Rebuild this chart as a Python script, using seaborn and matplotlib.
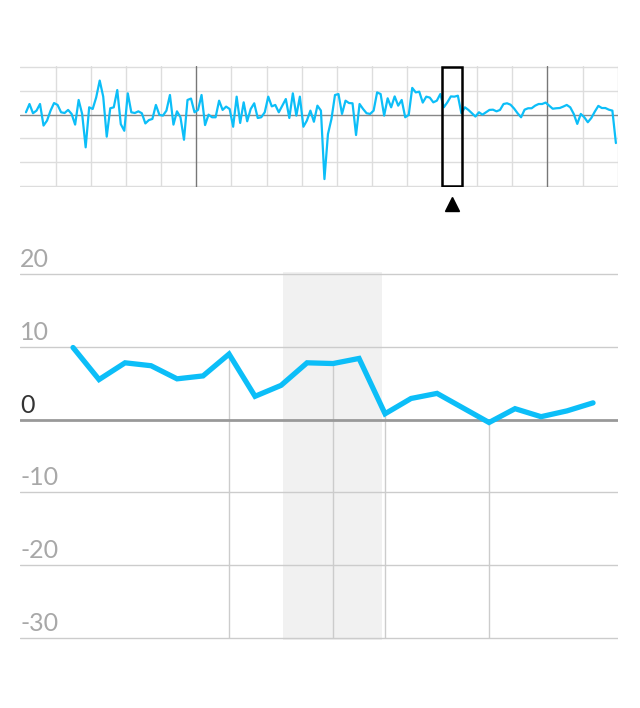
import numpy as np
import pandas as pd
import matplotlib
matplotlib.use('Agg')
import matplotlib.pyplot as plt
import matplotlib.patches as mpatches
import seaborn as sns

# overview series (full history)
overview_values = [
    1, 4.5, 0.6, 1.7, 4.5, -4.6, -2.5, 1.7, 4.9, 4.1, 1, 0.7, 2, 0.3, -4.2, 6.2, 0.3, -13.8,
    3.1, 2.4, 7.3, 14.4, 7.6, -9.3, 2.7, 3.1, 10.4, -4,
    -6.8, 9, 1, 0.7, 1.4, 0.6, -3.7, -2.3, -1.8, 4.1, -0.1, -0.4, 1.7, 8.3, -4.2, 1.4, -1.1,
    -10.6, 6.2, 6.8, 1, 2, 8.3, -4.4, 0, -1.1, -1.1, 5.9,
    2, 3.4, 2.4, -5.1, 7.6, -3.5, 5.2, -2.8, 2.4, 4.8, -1.4, -1.1, 1, 7.6, 3.5, 4.1, 1, 3.8,
    6.6, -1.4, 9, -0.4, 7.6, -5.1, -2.5, 1.7, -3, 3.8,
    1.7, -27.2, -8.2, -1.8, 8.3, 8.7, 0.3, 5.9, 4.9, 4.8, -8.6, 4.5, 2.4, 0.6, 0.3, 1.7, 9.4,
    8.7, -0.4, 6.9, 3.1, 7.7, 3.8, 6.2, -1.1, -0.1, 11.3,
    9.4, 9.7, 5.1, 7.6, 7.2, 5.2, 5.9, 8.7, 3.1, 5.2, 7.7, 7.6, 8, 0.6, 3.1, 2, 0.6, -0.8, 1,
    0, 1, 2, 2.1, 1.4, 2, 4.5, 4.8, 4.2,
    2.6, 0.6, -1.1, 2.1, 2.7, 2.7, 3.8, 4.5, 4.5, 5.1, 3.8, 2.5, 2.7, 2.8, 3.4, 4.1, 3.1, 0.3,
    -3.9, 0.3, -1.1, -3.2, -1.4, 1.3, 3.7, 2.8, 2.8, 2.1, 1.7, -12,
]

# detail series (main chart)
detail_values = [9.9, 5.5, 7.8, 7.4, 5.6, 6.0, 9.0, 3.2, 4.7, 7.8, 7.7, 8.4,
                 0.8, 2.9, 3.6, 1.6, -0.4, 1.5, 0.4, 1.2, 2.3]
drop_line_idx = [6, 10, 12, 16]
highlight_span = (8.08, 11.88)
brush_span = (118.5, 124.2)

y_ticks = [20, 10, 0, -10, -20, -30]
y_tick_labels = ['20', '10', '0', '-10', '-20', '-30']

line_color = '#0cbef8'

df_over = pd.DataFrame({'idx': np.arange(len(overview_values)), 'value': overview_values})
df_detail = pd.DataFrame({'idx': np.arange(len(detail_values)), 'value': detail_values})

sns.set_style('white')
plt.rcParams['font.family'] = ['Lato', 'DejaVu Sans']

fig = plt.figure(figsize=(6.4, 7.08), dpi=100)

# --- Overview strip ---
ax_o = fig.add_axes([20 / 640, 521.1 / 708, 598 / 640, 120.8 / 708])
ax_o.set_xlim(-1.7, 168.6)
ax_o.set_ylim(-30.5, 20.5)
for v in y_ticks:
    if v == 0:
        ax_o.axhline(v, color='#888888', lw=1, zorder=1)
    else:
        ax_o.axhline(v, color='#dddddd', lw=1, zorder=0)
for k in range(17):
    xv = 8.5 + 10 * k
    dark = k in (4, 14)
    ax_o.axvline(xv, color='#777777' if dark else '#dddddd', lw=1, zorder=0 if not dark else 1)
sns.lineplot(data=df_over, x='idx', y='value', ax=ax_o, color=line_color, lw=1.6, zorder=3)
ax_o.add_patch(mpatches.Rectangle((brush_span[0], -30), brush_span[1] - brush_span[0], 50,
                                  fill=False, ec='black', lw=1.8, zorder=4))
ax_o.plot([(brush_span[0] + brush_span[1]) / 2], [-37.6], marker='^', color='black',
          markersize=10, clip_on=False, zorder=5)
ax_o.set_xlabel('')
ax_o.set_ylabel('')
ax_o.set_xticks([])
ax_o.set_yticks([])
sns.despine(ax=ax_o, left=True, bottom=True)

# --- Main detail chart ---
ax = fig.add_axes([20 / 640, 67.8 / 708, 598 / 640, 368.4 / 708])
ax.set_xlim(-2.04, 20.96)
ax.set_ylim(-30.3, 20.3)
ax.axvspan(*highlight_span, ymin=0, ymax=(20.3 + 30.3 + 0.3) / 50.6, color='#f1f1f1', lw=0, zorder=0)
for v in y_ticks:
    if v == 0:
        ax.axhline(v, color='#999999', lw=2, zorder=2)
    else:
        ax.axhline(v, color='#cccccc', lw=1, zorder=1)
for i in drop_line_idx:
    ax.vlines(i, -30, detail_values[i], color='#cccccc', lw=1, zorder=1)
sns.lineplot(data=df_detail, x='idx', y='value', ax=ax, color=line_color, lw=3.8, zorder=3)
for line in ax.lines:
    line.set_solid_capstyle('round')
    line.set_solid_joinstyle('miter')

for v, lab in zip(y_ticks, y_tick_labels):
    ax.annotate(lab, xy=(0, v), xycoords=ax.get_yaxis_transform(),
                xytext=(0, 5), textcoords='offset points', ha='left', va='baseline',
                fontsize=18, fontweight='normal',
                color='#333333' if v == 0 else '#a8a8a8')

ax.set_xlabel('')
ax.set_ylabel('')
ax.set_xticks([])
ax.set_yticks([])
sns.despine(ax=ax, left=True, bottom=True)

fig.savefig('out.png', dpi=100)
